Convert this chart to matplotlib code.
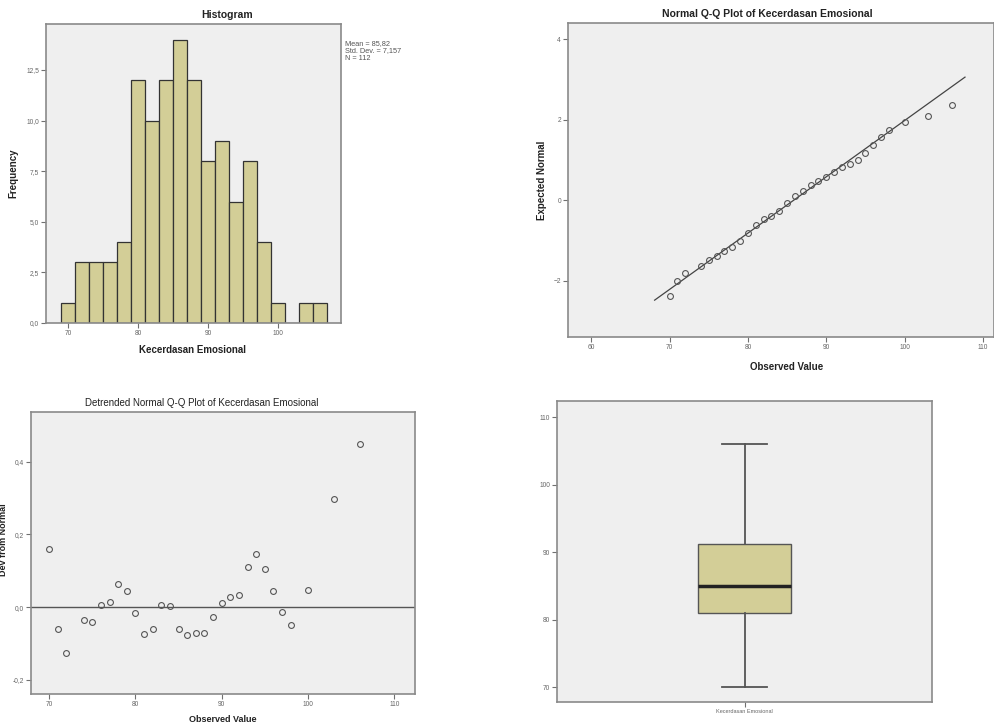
import numpy as np
import matplotlib
matplotlib.use("Agg")
import matplotlib.pyplot as plt

plt.rcParams['font.family'] = ['Liberation Sans', 'DejaVu Sans']

# ---------------- data ----------------
hist_bin_left = [69, 71, 73, 75, 77, 79, 81, 83, 85, 87, 89, 91, 93, 95, 97, 99, 101, 103, 105]
hist_counts = [1, 3, 3, 3, 4, 12, 10, 12, 14, 12, 8, 9, 6, 8, 4, 1, 0, 1, 1]
hist_bin_width = 2
stat_mean = 85.82
stat_sd = 7.157
stat_n = 112

observed = [70, 71, 72, 74, 75, 76, 77, 78, 79, 80, 81, 82, 83, 84, 85, 86,
            87, 88, 89, 90, 91, 92, 93, 94, 95, 96, 97, 98, 100, 103, 106]
deviation = [0.161, -0.059, -0.125, -0.035, -0.041, 0.006, 0.015, 0.064, 0.044,
             -0.015, -0.074, -0.061, 0.006, 0.004, -0.059, -0.076, -0.071, -0.071,
             -0.028, 0.011, 0.028, 0.034, 0.110, 0.145, 0.105, 0.044, -0.014,
             -0.050, 0.047, 0.297, 0.449]
qq_line_range = [68.1, 107.7]

box_stats = dict(whislo=70, q1=81, med=85, q3=91.25, whishi=106)
box_label = "Kecerdasan Emosional"

hist_yticks = [0, 2.5, 5, 7.5, 10, 12.5]
hist_xticks = [70, 80, 90, 100]
qq_xticks = [60, 70, 80, 90, 100, 110]
qq_yticks = [-2, 0, 2, 4]
dt_xticks = [70, 80, 90, 100, 110]
dt_yticks = [-0.2, 0.0, 0.2, 0.4]
box_yticks = [70, 80, 90, 100, 110]

# ---------------- style ----------------
W, H = 995, 727
BG = '#efefef'
SPINE = '#8a8a8a'
BAR = '#d3ce97'
EDGE = '#333333'
TICKC = '#707070'
TXT = '#222222'

fig = plt.figure(figsize=(W / 100, H / 100), dpi=100)
fig.patch.set_facecolor('white')


def px_axes(l, t, r, b):
    return fig.add_axes([l / W, 1 - b / H, (r - l) / W, (b - t) / H])


def style(ax):
    ax.set_facecolor(BG)
    for s in ax.spines.values():
        s.set_color(SPINE)
        s.set_linewidth(1.2)
    ax.tick_params(direction='out', length=3.5, width=0.8, color=TICKC,
                   labelsize=4.8, labelcolor='#666666', pad=1.5)


def comma(v, fmt):
    return (fmt % v).replace('.', ',')


def ftext(x, y, s, **kw):
    fig.text(x / W, 1 - y / H, s, **kw)


# ---------------- Histogram ----------------
ax1 = px_axes(46, 24, 341, 323)
style(ax1)
ax1.bar(hist_bin_left, hist_counts, width=hist_bin_width, align='edge',
        color=BAR, edgecolor=EDGE, linewidth=0.9)
ax1.set_xlim(66.86, 109.0)
ax1.set_ylim(0, 14.77)
ax1.set_xticks(hist_xticks)
ax1.set_xticklabels([str(v) for v in hist_xticks])
ax1.set_yticks(hist_yticks)
ax1.set_yticklabels([comma(v, '%.1f') for v in hist_yticks])
ftext(227, 15, "Histogram", ha='center', va='center', fontsize=7.5,
      fontweight='bold', color=TXT)
ftext(193, 350, "Kecerdasan Emosional", ha='center', va='center', fontsize=7,
      fontweight='bold', color=TXT)
ftext(13, 173, "Frequency", ha='center', va='center', fontsize=7,
      fontweight='bold', color=TXT, rotation=90)
ftext(345, 51, "Mean = %s\nStd. Dev. = %s\nN = %d" % (comma(stat_mean, '%.2f'),
      comma(stat_sd, '%.3f'), stat_n), ha='left', va='center', fontsize=5.3,
      color='#555555', linespacing=1.15)

# ---------------- Normal Q-Q ----------------
obs = np.array(observed, dtype=float)
dev = np.array(deviation)
zobs = (obs - stat_mean) / stat_sd
expected = zobs - dev

ax2 = px_axes(568, 23, 994, 337)
style(ax2)
lx = np.array(qq_line_range)
ax2.plot(lx, (lx - stat_mean) / stat_sd, color='#444444', linewidth=0.9)
ax2.plot(obs, expected, linestyle='none', marker='o', markersize=4.2,
         markerfacecolor='none', markeredgecolor='#555555', markeredgewidth=0.8)
ax2.set_xlim(57.05, 111.4)
ax2.set_ylim(-3.39, 4.4)
ax2.set_xticks(qq_xticks)
ax2.set_yticks(qq_yticks)
ftext(767, 14, "Normal Q-Q Plot of Kecerdasan Emosional", ha='center',
      va='center', fontsize=7.5, fontweight='bold', color=TXT)
ftext(787, 367, "Observed Value", ha='center', va='center', fontsize=7,
      fontweight='bold', color=TXT)
ftext(542, 180, "Expected Normal", ha='center', va='center', fontsize=7,
      fontweight='bold', color=TXT, rotation=90)

# ---------------- Detrended Q-Q ----------------
ax3 = px_axes(31, 412, 415, 694)
style(ax3)
ax3.axhline(0, color='#555555', linewidth=1.0)
ax3.plot(obs, dev, linestyle='none', marker='o', markersize=4.2,
         markerfacecolor='none', markeredgecolor='#555555', markeredgewidth=0.8)
ax3.set_xlim(67.9, 112.4)
ax3.set_ylim(-0.239, 0.537)
ax3.set_xticks(dt_xticks)
ax3.set_yticks(dt_yticks)
ax3.set_yticklabels([comma(v, '%.1f') for v in dt_yticks])
ftext(202, 403, "Detrended Normal Q-Q Plot of Kecerdasan Emosional", ha='center',
      va='center', fontsize=7, color=TXT)
ftext(223, 720, "Observed Value", ha='center', va='center', fontsize=6.5,
      fontweight='bold', color=TXT)
ftext(4, 540, "Dev from Normal", ha='center', va='center', fontsize=6.5,
      fontweight='bold', color=TXT, rotation=90)

# ---------------- Boxplot ----------------
ax4 = px_axes(557, 401, 932, 702)
style(ax4)
st = dict(box_stats)
st['label'] = box_label
ax4.bxp([st], positions=[1], widths=0.5, showfliers=False, patch_artist=True,
        boxprops=dict(facecolor=BAR, edgecolor='#555555', linewidth=1.0),
        medianprops=dict(color='#222222', linewidth=2.5),
        whiskerprops=dict(color='#555555', linewidth=1.3),
        capprops=dict(color='#555555', linewidth=1.3), capwidths=0.24)
ax4.set_xlim(0.0, 2.0)
ax4.set_ylim(67.8, 112.4)
ax4.set_yticks(box_yticks)
ax4.tick_params(axis='x', labelsize=4)

fig.savefig("out.png", dpi=100, facecolor='white')
